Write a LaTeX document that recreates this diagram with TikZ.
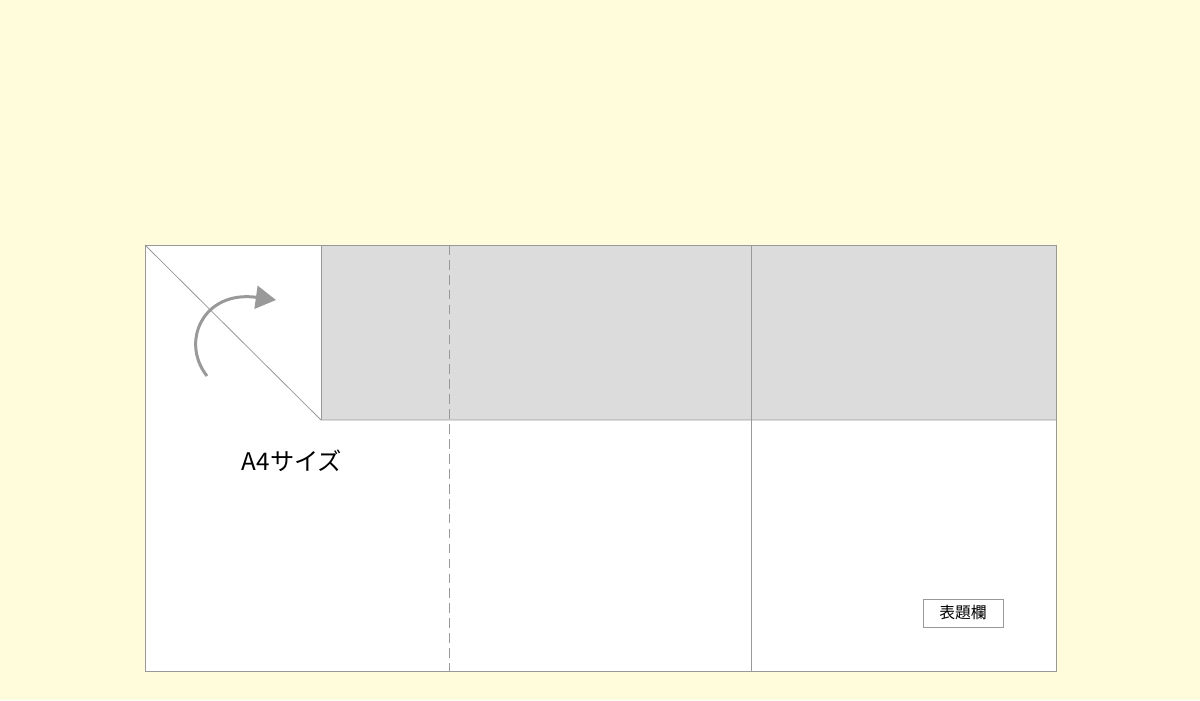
\documentclass[tikz,border=0pt]{standalone}
\usepackage{fontspec}
\setmainfont{Noto Sans CJK JP}
\usepackage{tikz}
\usetikzlibrary{calc,arrows.meta}
\definecolor{fond}{HTML}{FFFCDC}
\definecolor{trait}{HTML}{999999}
\definecolor{gris}{HTML}{DCDCDC}

\begin{document}
\begin{tikzpicture}[x=0.02cm,y=-0.02cm,>=Triangle]

        % Fond et cadre de l'image
        \fill[fond] (0,0) rectangle (1200,700);
        \useasboundingbox (0,0) rectangle (1200,700);

        % Définir les coordonnées des coins de la feuille
        \coordinate (A) at (145,245);
        \coordinate (B) at (1056,245);
        \coordinate (C) at (1056,671);
        \coordinate (D) at (145,671);
        \coordinate (P) at (321,245);
        \coordinate (Q) at (321,420);
        \coordinate (R) at (1056,420);

        % Feuille blanche et bande grise
        \fill[white] (A) rectangle (C);
        \fill[gris] (P) rectangle (R);

        % Dessinez les plis et les bords
        \draw[trait,line width=0.45pt] (A) rectangle (C);
        \draw[trait,line width=0.45pt] (A) -- (Q) -- (R);
        \draw[trait,line width=0.45pt] (P) -- (Q);
        \draw[trait,line width=0.45pt,dash pattern=on 5.5pt off 3pt] (449,245) -- (449,671);
        \draw[trait,line width=0.45pt] (751,245) -- (751,671);

        % Flèche du pliage
        \coordinate (S) at (207,376);
        \coordinate (E) at (276,300);
        \draw[trait,line width=1.7pt,-{Triangle[length=11.5pt,width=13pt]}] (S) .. controls (180,342) and (203,290) .. (E);

        % Ajouter les textes
        \node (format) at (292,461) {\fontsize{13.8pt}{16pt}\selectfont A4サイズ};
        \node[draw=trait,line width=0.45pt,fill=white,minimum width=80*0.02cm,minimum height=28*0.02cm,inner sep=0pt] (cartouche) at (963,613) {\fontsize{9pt}{11pt}\selectfont 表題欄};
    \end{tikzpicture}
\end{document}
